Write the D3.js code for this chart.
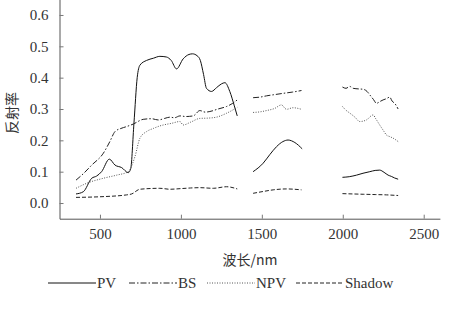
<!DOCTYPE html>
<html>
<head>
<meta charset="utf-8">
<script src="https://cdn.jsdelivr.net/npm/d3@7"></script>
<style>
  body { margin: 0; background: #fff; }
</style>
</head>
<body>
<svg id="chart" width="452" height="310"></svg>
<script>
// wavelength (nm) / reflectance, three spectral windows
var pvWl1 = [352, 397, 449, 479, 510, 558, 593, 634, 675, 690, 710, 730, 747, 788, 830, 870, 910, 940, 973, 1014, 1050, 1072, 1100, 1120, 1140, 1158, 1189, 1220, 1250, 1272, 1302, 1330, 1348];
var pvR1 = [0.029, 0.036, 0.079, 0.086, 0.100, 0.140, 0.121, 0.113, 0.097, 0.110, 0.255, 0.400, 0.440, 0.455, 0.462, 0.468, 0.466, 0.455, 0.428, 0.460, 0.474, 0.476, 0.470, 0.455, 0.410, 0.366, 0.356, 0.368, 0.380, 0.384, 0.356, 0.310, 0.278];
var pvWl2 = [1446, 1508, 1550, 1591, 1630, 1662, 1704, 1749];
var pvR2 = [0.100, 0.127, 0.155, 0.180, 0.196, 0.201, 0.193, 0.173];
var pvWl3 = [1998, 2040, 2085, 2125, 2167, 2200, 2228, 2255, 2280, 2300, 2320, 2342];
var pvR3 = [0.082, 0.084, 0.089, 0.095, 0.100, 0.104, 0.105, 0.098, 0.089, 0.085, 0.080, 0.076];

var bsWl1 = [352, 400, 449, 521, 560, 593, 630, 665, 706, 767, 819, 860, 900, 932, 960, 994, 1030, 1076, 1117, 1150, 1179, 1230, 1282, 1320, 1348];
var bsR1 = [0.073, 0.095, 0.121, 0.159, 0.195, 0.228, 0.238, 0.244, 0.252, 0.267, 0.269, 0.265, 0.270, 0.274, 0.272, 0.278, 0.276, 0.278, 0.295, 0.290, 0.292, 0.300, 0.308, 0.318, 0.329];
var bsWl2 = [1446, 1490, 1529, 1580, 1632, 1690, 1745];
var bsR2 = [0.336, 0.338, 0.342, 0.346, 0.350, 0.354, 0.359];
var bsWl3 = [1998, 2020, 2043, 2064, 2100, 2126, 2150, 2167, 2190, 2208, 2230, 2249, 2270, 2290, 2305, 2321, 2342];
var bsR3 = [0.370, 0.366, 0.372, 0.366, 0.364, 0.363, 0.356, 0.345, 0.330, 0.318, 0.324, 0.329, 0.333, 0.338, 0.325, 0.318, 0.300];

var npvWl1 = [352, 418, 521, 603, 675, 716, 747, 788, 830, 870, 891, 940, 994, 1014, 1060, 1117, 1170, 1220, 1280, 1348];
var npvR1 = [0.047, 0.063, 0.079, 0.089, 0.100, 0.148, 0.207, 0.228, 0.238, 0.246, 0.249, 0.254, 0.260, 0.249, 0.258, 0.270, 0.271, 0.274, 0.286, 0.305];
var npvWl2 = [1446, 1490, 1529, 1580, 1621, 1652, 1693, 1745];
var npvR2 = [0.289, 0.291, 0.295, 0.302, 0.313, 0.299, 0.304, 0.299];
var npvWl3 = [1998, 2020, 2043, 2075, 2105, 2146, 2187, 2205, 2228, 2250, 2270, 2290, 2311, 2342];
var npvR3 = [0.308, 0.296, 0.287, 0.274, 0.260, 0.265, 0.281, 0.268, 0.249, 0.232, 0.217, 0.212, 0.207, 0.196];

var shWl1 = [352, 500, 665, 696, 747, 870, 932, 1000, 1060, 1117, 1200, 1282, 1348];
var shR1 = [0.018, 0.020, 0.026, 0.029, 0.044, 0.047, 0.044, 0.046, 0.048, 0.049, 0.047, 0.052, 0.045];
var shWl2 = [1446, 1510, 1570, 1652, 1700, 1745];
var shR2 = [0.031, 0.037, 0.042, 0.045, 0.044, 0.042];
var shWl3 = [1998, 2060, 2126, 2200, 2270, 2342];
var shR3 = [0.030, 0.029, 0.028, 0.027, 0.026, 0.024];

var yTicks = [0.0, 0.1, 0.2, 0.3, 0.4, 0.5, 0.6];
var xTicks = [500, 1000, 1500, 2000, 2500];
var seriesNames = ['PV', 'BS', 'NPV', 'Shadow'];

var SERIF = '"Liberation Serif", "Times New Roman", serif';
var CJK = '"Noto Sans CJK SC", sans-serif';

function zip(wl, r) {
    return wl.map(function (w, i) { return [w, r[i]]; });
}

var series = [
    { name: 'PV', dash: null, color: '#111', parts: [zip(pvWl1, pvR1), zip(pvWl2, pvR2), zip(pvWl3, pvR3)] },
    { name: 'BS', dash: '6,2,1.5,2', color: '#222', parts: [zip(bsWl1, bsR1), zip(bsWl2, bsR2), zip(bsWl3, bsR3)] },
    { name: 'NPV', dash: '1,1.5', color: '#555', parts: [zip(npvWl1, npvR1), zip(npvWl2, npvR2), zip(npvWl3, npvR3)] },
    { name: 'Shadow', dash: '4,2', color: '#222', parts: [zip(shWl1, shR1), zip(shWl2, shR2), zip(shWl3, shR3)] }
];

var svg = d3.select('#chart');
var x = d3.scaleLinear().domain([250, 2600]).range([59.5, 439.9]);
var y = d3.scaleLinear().domain([-0.05, 0.65]).range([218.7, -0.7]);

var line = d3.line()
    .x(function (d) { return x(d[0]); })
    .y(function (d) { return y(d[1]); })
    .curve(d3.curveMonotoneX);

// axes
var xAxis = svg.append('g')
    .attr('transform', 'translate(0,' + y(-0.05) + ')')
    .call(d3.axisBottom(x).tickValues(xTicks).tickFormat(d3.format('d')).tickSizeInner(-4).tickSizeOuter(0).tickPadding(10));
var yAxis = svg.append('g')
    .attr('transform', 'translate(' + x(250) + ',0)')
    .call(d3.axisLeft(y).tickValues(yTicks).tickFormat(d3.format('.1f')).tickSizeInner(-4).tickSizeOuter(0).tickPadding(11));
[xAxis, yAxis].forEach(function (a) {
    a.attr('font-family', SERIF).attr('font-size', 15);
    a.select('.domain').attr('stroke', '#555');
    a.selectAll('.tick line').attr('stroke', '#777');
    a.selectAll('.tick text').attr('fill', '#333');
});

// curves
series.forEach(function (s) {
    s.parts.forEach(function (p) {
        svg.append('path')
            .datum(p)
            .attr('d', line)
            .attr('fill', 'none')
            .attr('stroke', s.color)
            .attr('stroke-width', 1)
            .attr('stroke-dasharray', s.dash);
    });
});

// axis titles
svg.append('text')
    .attr('font-family', CJK)
    .attr('x', 250).attr('y', 265)
    .attr('text-anchor', 'middle')
    .attr('font-size', 14)
    .attr('fill', '#333')
    .text('波长/nm');
svg.append('text')
    .attr('font-family', CJK)
    .attr('transform', 'translate(17,113) rotate(-90)')
    .attr('text-anchor', 'middle')
    .attr('font-size', 14)
    .attr('fill', '#333')
    .text('反射率');

// legend
var legendX = [48, 129, 207, 296];
var legend = svg.append('g').attr('class', 'legend');
series.forEach(function (s, i) {
    var g = legend.append('g').attr('transform', 'translate(' + legendX[i] + ',283)');
    g.append('line')
        .attr('x1', 0).attr('x2', 48)
        .attr('stroke', s.color)
        .attr('stroke-width', 1)
        .attr('stroke-dasharray', s.dash);
    g.append('text')
        .attr('x', 49).attr('y', 5)
        .attr('font-family', SERIF)
        .attr('font-size', 15)
        .attr('fill', '#333')
        .text(seriesNames[i]);
});
</script>
</body>
</html>
